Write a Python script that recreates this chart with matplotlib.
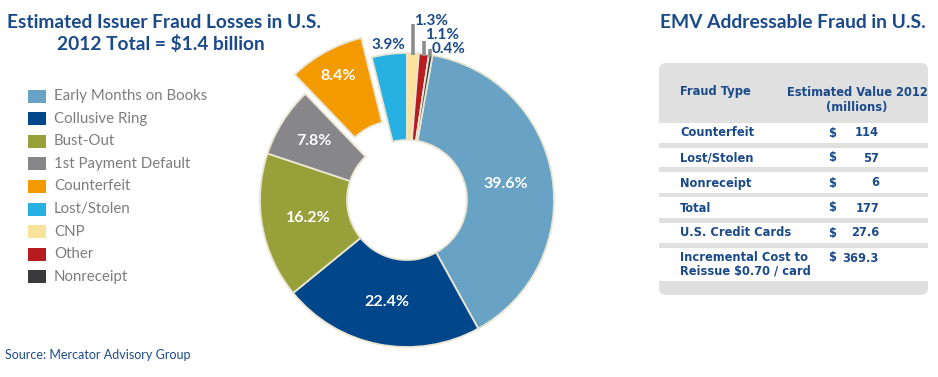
import os
import matplotlib
matplotlib.use("Agg")
import matplotlib.pyplot as plt
from matplotlib.patches import Rectangle, FancyBboxPatch
from matplotlib import font_manager
from matplotlib.font_manager import FontProperties
import numpy as np

# ---------------- data ----------------
categories = ["Early Months on Books", "Collusive Ring", "Bust-Out", "1st Payment Default",
              "Counterfeit", "Lost/Stolen", "CNP", "Other", "Nonreceipt"]
shares = [39.6, 22.4, 16.2, 7.8, 8.4, 3.9, 1.3, 1.1, 0.4]
share_labels = ["39.6%", "22.4%", "16.2%", "7.8%", "8.4%", "3.9%", "1.3%", "1.1%", "0.4%"]

table_types = ["Counterfeit", "Lost/Stolen", "Nonreceipt", "Total", "U.S. Credit Cards",
               "Incremental Cost to\nReissue $0.70 / card"]
table_values = ["114", "57", "6", "177", "27.6", "369.3"]

# ---------------- style ----------------
W, H = 938, 377
colors = ["#68a2c4", "#00468b", "#98a03a", "#87878a", "#f39a00", "#27b1e3",
          "#f8e29c", "#b81c1e", "#3a3a3c"]
navy = "#1b4a8a"
gray_txt = "#7d7d7d"

avail = {f.name for f in font_manager.fontManager.ttflist}
title_font = "Lato" if "Lato" in avail else "DejaVu Sans"


def find_condensed():
    best = None
    for f in font_manager.fontManager.ttflist:
        base = os.path.basename(f.fname)
        cond = ("condensed" in str(f.stretch).lower() or "Narrow" in f.name
                or "Condensed" in f.name or "Condensed" in base or "Narrow" in base)
        if not cond:
            continue
        if "Oblique" in base or "Italic" in base:
            continue
        w = f.weight if isinstance(f.weight, int) else {"bold": 700, "semibold": 600,
                                                         "normal": 400, "regular": 400}.get(str(f.weight).lower(), 400)
        score = -abs(w - 700)
        if best is None or score > best[0]:
            best = (score, f.fname)
    return best[1] if best else None


cond_path = find_condensed()
if cond_path:
    tprops = dict(fontproperties=FontProperties(fname=cond_path, size=9.2))
else:
    tprops = dict(family="Roboto", fontweight="bold", fontsize=8.5)

fig = plt.figure(figsize=(W / 100, H / 100), dpi=100)
ax = fig.add_axes([0, 0, 1, 1])


def Y(y):
    return H - y

# ---------------- pie ----------------
cx, cy, R = 407, 200, 147
explode = [0, 0, 0, 0, 22, 0, 0, 0, 0]
wedges, _ = ax.pie(shares, colors=colors, startangle=80, counterclock=False,
                   radius=R, center=(cx, Y(cy)), explode=explode, frame=True,
                   wedgeprops=dict(width=87, edgecolor="#e9e5d3", linewidth=1.3))

# inner labels
inner_r = [100, 104, 100, 110, 120]
for i in range(5):
    w = wedges[i]
    th = np.deg2rad(0.5 * (w.theta1 + w.theta2))
    x0, y0 = w.center
    ax.text(x0 + inner_r[i] * np.cos(th), y0 + inner_r[i] * np.sin(th), share_labels[i],
            color="white", fontsize=11.5, fontweight="bold", family=title_font,
            ha="center", va="center")

# 3.9% label outside
w = wedges[5]
th = np.deg2rad(0.5 * (w.theta1 + w.theta2))
ax.text(cx + 158 * np.cos(th), Y(cy) + 156 * np.sin(th), share_labels[5], color=navy,
        fontsize=11, fontweight="bold", family=title_font, ha="center", va="center")

# leader bars for small slices
leader_len = [31, 15, 8]
text_dy = [3, 6, 0]
for k, i in enumerate([6, 7, 8]):
    w = wedges[i]
    th = np.deg2rad(0.5 * (w.theta1 + w.theta2))
    x0 = cx + (R - 2) * np.cos(th)
    y0 = Y(cy) + (R - 2) * np.sin(th)
    y1 = y0 + leader_len[k]
    ax.plot([x0, x0], [y0, y1], color="#8c8c8c", lw=2.6, solid_capstyle="butt", zorder=1)
    ax.text(x0 + 1, y1 + text_dy[k], share_labels[i], color=navy, fontsize=11,
            fontweight="bold", family=title_font, ha="left", va="center")

# ---------------- titles ----------------
ax.text(7, Y(28), "Estimated Issuer Fraud Losses in U.S.", color=navy, fontsize=13.8,
        fontweight="bold", family=title_font, ha="left", va="baseline")
ax.text(161, Y(50), "2012 Total = $1.4 billion", color=navy, fontsize=13.8,
        fontweight="bold", family=title_font, ha="center", va="baseline")
ax.text(793, Y(28), "EMV Addressable Fraud in U.S.", color=navy, fontsize=13.9,
        fontweight="bold", family=title_font, ha="center", va="baseline")
ax.text(5, Y(355), "Source: Mercator Advisory Group", color=navy, fontsize=9,
        family=title_font, ha="left", va="center")

# ---------------- legend ----------------
for i, (c, lab) in enumerate(zip(colors, categories)):
    yy = 96 + i * 22.6
    ax.add_patch(Rectangle((28, Y(yy) - 6.5), 18, 13, facecolor=c, edgecolor="none"))
    ax.text(54, Y(yy), lab, color=gray_txt, fontsize=10.8, family=title_font,
            ha="left", va="center")

# ---------------- table ----------------
tx0, tx1, ty0, ty1 = 659, 928, 63, 295
ax.add_patch(FancyBboxPatch((tx0, Y(ty1)), tx1 - tx0, ty1 - ty0,
                            boxstyle="round,pad=0,rounding_size=7",
                            facecolor="#e0e0e0", edgecolor="none"))
bands = [(123, 143), (148, 167), (172, 193), (197, 218), (223, 243), (248, 281)]
for (a, b) in bands:
    ax.add_patch(Rectangle((tx0, Y(b)), tx1 - tx0, b - a, facecolor="white", edgecolor="none"))

ax.text(680, Y(92), "Fraud Type", color=navy, ha="left", va="center", **tprops)
ax.text(857, Y(92), "Estimated Value 2012", color=navy, ha="center", va="center", **tprops)
ax.text(857, Y(107), "(millions)", color=navy, ha="center", va="center", **tprops)
row_y = [133, 158, 183, 208, 233, 258]
for ry, t, v in zip(row_y, table_types, table_values):
    if "\n" in t:
        ax.text(680, Y(ry - 7), t, color=navy, ha="left", va="top", linespacing=1.0, **tprops)
    else:
        ax.text(680, Y(ry), t, color=navy, ha="left", va="center", **tprops)
    ax.text(832, Y(ry), "$", color=navy, ha="center", va="center", **tprops)
    ax.text(879, Y(ry), v, color=navy, ha="right", va="center", **tprops)

ax.set_xlim(0, W)
ax.set_ylim(0, H)
ax.set_aspect("auto")
ax.axis("off")
fig.savefig("out.png", dpi=100)
